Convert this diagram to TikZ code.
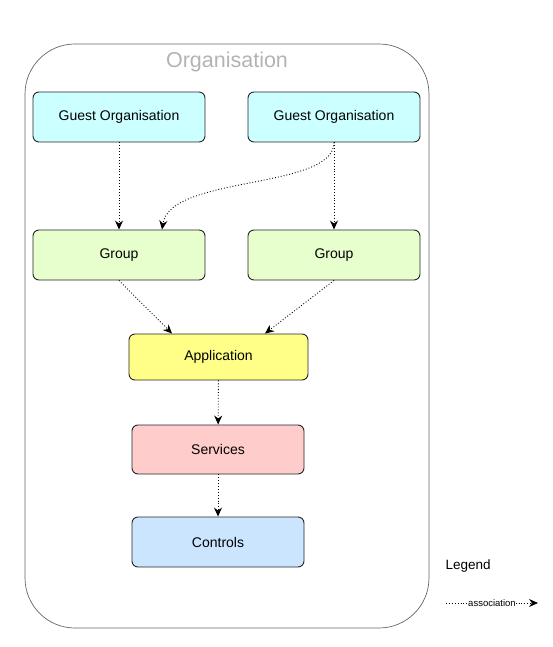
\documentclass[tikz,border=0pt]{standalone}
\usepackage{fontspec}
\setmainfont{Liberation Sans}
\usetikzlibrary{arrows.meta}
\definecolor{guestc}{HTML}{CCFFFF}
\definecolor{groupc}{HTML}{E6FFCC}
\definecolor{appc}{HTML}{FFFF88}
\definecolor{servc}{HTML}{FFCCCC}
\definecolor{ctrlc}{HTML}{CCE5FF}
\definecolor{orgtext}{HTML}{B3B3B3}
\begin{document}
\begin{tikzpicture}[x=1pt,y=-1pt,
  box/.style={draw=black!85,line width=0.9pt,rounded corners=6pt,minimum width=172pt,minimum height=50pt,inner sep=0pt,font=\fontsize{14}{16}\selectfont},
  assoc/.style={dotted,line width=0.9pt,-{Stealth[length=9pt,width=8pt]}}]
\useasboundingbox (0,0) rectangle (553,647);
\draw[draw=black!60,line width=0.7pt,rounded corners=50pt] (25,44) rectangle (429,628);
\node[text=orgtext,font=\fontsize{21.5}{25}\selectfont] (org) at (227,62) {Organisation};
\node[box,fill=guestc] (g1) at (119,117) {Guest Organisation};
\node[box,fill=guestc] (g2) at (334,117) {Guest Organisation};
\node[box,fill=groupc] (gr1) at (119,255) {Group};
\node[box,fill=groupc] (gr2) at (334,255) {Group};
\node[box,fill=appc,minimum width=179pt,minimum height=46pt] (app) at (218.5,357) {Application};
\node[box,fill=servc,minimum height=49pt] (srv) at (218,449.5) {Services};
\node[box,fill=ctrlc] (ctl) at (218,542) {Controls};
\draw[assoc] (g1) -- (gr1);
\draw[assoc] (g2) -- (gr2);
\draw[assoc] (g2.south) .. controls (334,190) and (170,175) .. (gr1.north -| 162,0);
\draw[assoc] (gr1.south) -- (app.north -| 172,0);
\draw[assoc] (gr2.south) -- (app.north -| 265,0);
\draw[assoc] (app) -- (srv);
\draw[assoc] (srv) -- (ctl);
\node[anchor=west,font=\fontsize{13.5}{15}\selectfont] (leg) at (442,566) {Legend};
\coordinate (la) at (446,603);
\coordinate (lb) at (538,603);
\draw[assoc] (la) -- node[fill=white,inner sep=0.5pt,font=\fontsize{9.5}{10}\selectfont] {association} (lb);
\end{tikzpicture}
\end{document}
